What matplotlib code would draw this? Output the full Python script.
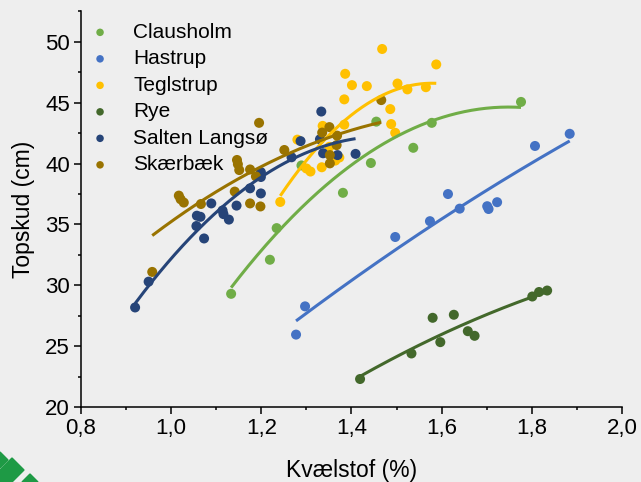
import numpy as np
import matplotlib
matplotlib.use("Agg")
import matplotlib.pyplot as plt
from matplotlib.ticker import MultipleLocator, FuncFormatter
from matplotlib.patches import Polygon

plt.rcParams['font.family'] = ['Liberation Sans', 'DejaVu Sans']

series_names = ["Clausholm", "Hastrup", "Teglstrup", "Rye", "Salten Langsø", "Skærbæk"]
series_colors = ["#70AD47", "#4472C4", "#FFC000", "#43682B", "#264478", "#997300"]

clausholm_x = [1.133, 1.219, 1.234, 1.289, 1.381, 1.443, 1.455, 1.537, 1.578, 1.776]
clausholm_y = [29.3, 32.1, 34.7, 39.85, 37.6, 40.05, 43.45, 41.3, 43.35, 45.07]

hastrup_x = [1.277, 1.297, 1.497, 1.574, 1.614, 1.640, 1.701, 1.704, 1.723, 1.807, 1.884]
hastrup_y = [25.95, 28.27, 33.97, 35.27, 37.5, 36.3, 36.5, 36.27, 36.83, 41.45, 42.45]

teglstrup_x = [1.242, 1.280, 1.300, 1.309, 1.334, 1.336, 1.351, 1.364, 1.373, 1.384, 1.384,
               1.386, 1.401, 1.434, 1.468, 1.486, 1.488, 1.497, 1.502, 1.524, 1.565, 1.588]
teglstrup_y = [36.85, 41.97, 39.6, 39.35, 39.7, 43.1, 41.38, 40.25, 40.5, 43.2, 45.28,
               47.38, 46.45, 46.37, 49.42, 44.48, 43.25, 42.53, 46.58, 46.1, 46.28, 48.15]

rye_x = [1.419, 1.533, 1.580, 1.597, 1.627, 1.658, 1.673, 1.801, 1.816, 1.834]
rye_y = [22.3, 24.4, 27.33, 25.33, 27.58, 26.23, 25.85, 29.08, 29.45, 29.57]

salten_x = [0.920, 0.950, 1.056, 1.057, 1.065, 1.073, 1.089, 1.114, 1.116, 1.128, 1.145,
            1.175, 1.199, 1.199, 1.199, 1.267, 1.287, 1.330, 1.333, 1.337, 1.369, 1.409]
salten_y = [28.18, 30.3, 34.87, 35.72, 35.63, 33.85, 36.73, 36.15, 35.85, 35.4, 36.55,
            37.97, 37.55, 38.9, 39.3, 40.52, 41.85, 42.0, 44.28, 40.85, 40.7, 40.8]

skaerbaek_x = [0.958, 1.017, 1.021, 1.028, 1.066, 1.141, 1.146, 1.148, 1.151, 1.175, 1.175,
               1.188, 1.195, 1.198, 1.251, 1.335, 1.351, 1.368, 1.367, 1.352, 1.352, 1.466]
skaerbaek_y = [31.1, 37.37, 37.07, 36.8, 36.68, 37.7, 40.3, 39.95, 39.47, 39.52, 36.73,
               38.95, 43.35, 36.48, 41.12, 42.55, 43.0, 42.3, 41.52, 40.7, 40.02, 45.22]

xs = [clausholm_x, hastrup_x, teglstrup_x, rye_x, salten_x, skaerbaek_x]
ys = [clausholm_y, hastrup_y, teglstrup_y, rye_y, salten_y, skaerbaek_y]

x_ticks = [0.8, 1.0, 1.2, 1.4, 1.6, 1.8, 2.0]
y_ticks = [20, 25, 30, 35, 40, 45, 50]

bg = "#EEEEEE"
fig = plt.figure(figsize=(6.41, 4.82), dpi=100, facecolor=bg)
ax = fig.add_axes([81 / 641, 1 - 407 / 482, (622 - 81) / 641, (407 - 11.5) / 482])
ax.set_facecolor(bg)

for name, col, x, y in zip(series_names, series_colors, xs, ys):
    ax.scatter(x, y, s=52, color=col, edgecolors='none', label=name, zorder=3)

for col, x, y in zip(series_colors, xs, ys):
    x = np.asarray(x); y = np.asarray(y)
    c = np.polyfit(x, y, 2)
    xx = np.linspace(x.min(), x.max(), 200)
    ax.plot(xx, np.polyval(c, xx), color=col, lw=2.2, zorder=4, solid_capstyle='butt')

ax.set_xlim(0.8, 2.0)
ax.set_ylim(20, 52.5)
ax.set_xticks(x_ticks)
ax.set_yticks(y_ticks)
ax.xaxis.set_minor_locator(MultipleLocator(0.1))
ax.yaxis.set_minor_locator(MultipleLocator(2.5))
ax.xaxis.set_major_formatter(FuncFormatter(lambda v, p: f"{v:.1f}".replace(".", ",")))
ax.tick_params(axis='both', which='major', direction='out', length=5, width=1.1,
               labelsize=16, colors='black', pad=3)
ax.tick_params(axis='both', which='minor', direction='out', length=2.5, width=1.1)
for s in ['top', 'right']:
    ax.spines[s].set_visible(False)
for s in ['left', 'bottom']:
    ax.spines[s].set_linewidth(1.1)
ax.set_xlabel("Kvælstof (%)", fontsize=16.5, labelpad=14)
ax.set_ylabel("Topskud (cm)", fontsize=16.5, labelpad=7)

leg = ax.legend(loc='upper left', bbox_to_anchor=(-0.011, 1.003), frameon=False, fontsize=15,
                markerscale=0.75, handletextpad=1.0, labelspacing=0.36, borderaxespad=0.2,
                handlelength=1.2)

# partial logo in the corner
green = "#1E9A45"
for poly in [[(0, 452), (8, 460), (0, 468)],
             [(0, 470), (12, 458), (24, 470), (12, 482), (0, 482)],
             [(22, 482), (30, 474), (38, 482)]]:
    pts = [(px / 641, 1 - py / 482) for px, py in poly]
    fig.patches.append(Polygon(pts, closed=True, transform=fig.transFigure, color=green))

fig.savefig("out.png", dpi=100, facecolor=bg)
